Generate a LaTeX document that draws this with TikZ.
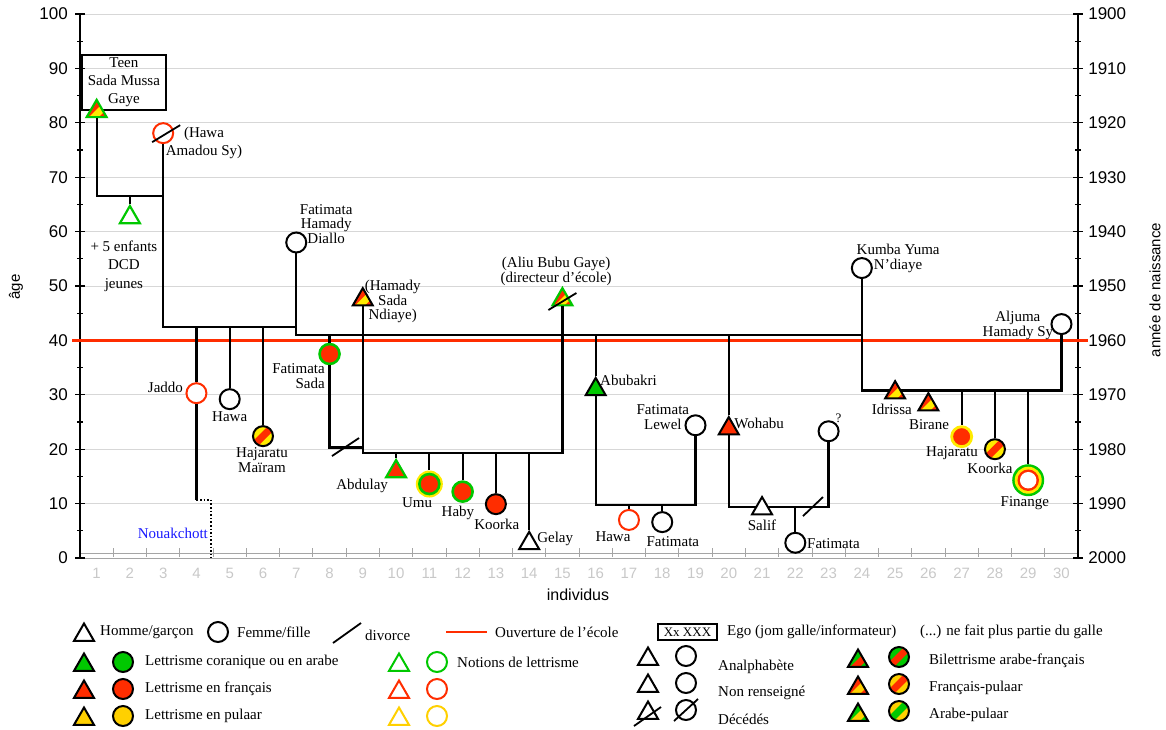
\documentclass[tikz,border=0pt]{standalone}
\usepackage{fontspec}
\setmainfont{Liberation Serif}
\newfontfamily\axfont{Liberation Sans}
\usetikzlibrary{shapes.geometric}
\definecolor{myred}{RGB}{255,45,0}
\definecolor{mygreen}{RGB}{0,200,0}
\definecolor{myyellow}{RGB}{255,235,0}
\definecolor{mygold}{RGB}{255,208,0}
\definecolor{gridgray}{RGB}{215,215,215}
\definecolor{axgray}{RGB}{165,165,165}
\definecolor{ticklab}{RGB}{200,200,200}
\definecolor{nkblue}{RGB}{25,25,255}
\tikzset{
  tri/.style={regular polygon, regular polygon sides=3, minimum size=23pt, inner sep=0pt, draw=black, line width=2pt, fill=white},
  circ/.style={circle, minimum size=20pt, inner sep=0pt, draw=black, line width=2pt, fill=white},
  lbl/.style={inner sep=0pt, font=\fontsize{15}{15}\selectfont},
  fam/.style={line width=2.2pt, draw=black},
  divslash/.style={line width=1.8pt, draw=black},
  axlab/.style={inner sep=0pt, font=\axfont\fontsize{17}{17}\selectfont},
  catlab/.style={inner sep=0pt, text=ticklab, font=\axfont\fontsize{15}{15}\selectfont},
  egobox/.style={draw, line width=1.8pt, inner sep=0pt, align=center},
  stripes/.style 2 args={path picture={
    \fill[#1] (path picture bounding box.south west) rectangle (path picture bounding box.north east);
    \fill[#2] ([shift={(-16.6pt,-11.7pt)}]path picture bounding box.center) -- ([shift={(-11.7pt,-16.6pt)}]path picture bounding box.center) -- ([shift={(16.6pt,11.7pt)}]path picture bounding box.center) -- ([shift={(11.7pt,16.6pt)}]path picture bounding box.center) -- cycle;
  }},
  tstripes/.style 2 args={path picture={
    \fill[#1] (path picture bounding box.south west) rectangle (path picture bounding box.north east);
    \fill[#2] ([shift={(-15.1pt,-16.1pt)}]path picture bounding box.center) -- ([shift={(-10.2pt,-21.0pt)}]path picture bounding box.center) -- ([shift={(18.1pt,7.3pt)}]path picture bounding box.center) -- ([shift={(13.2pt,12.2pt)}]path picture bounding box.center) -- cycle;
  }},
}
\begin{document}
\begin{tikzpicture}[x=1pt,y=-1pt]
\useasboundingbox (0,0) rectangle (1166,729);
\begin{scope}[shift={(63.365,558)}, x=33.27pt, y=5.44pt]
% grid
\foreach \v in {10,20,...,100} {\draw[gridgray, line width=0.9pt] (0.5,\v) -- (30.5,\v);}
\draw[axgray, line width=0.9pt] (0.5,0) -- (30.5,0);
\draw[axgray, line width=1pt] (0.5,0.92) -- (30.5,0.92);
\foreach \k in {0,...,30} {\draw[axgray, line width=0.9pt] (\k+0.5,1.75) -- (\k+0.5,0.15);}
% axes
\draw[black, line width=1.6pt] (0.5,0) -- (0.5,100);
\draw[black, line width=1.6pt] (30.5,0) -- (30.5,100);
\foreach \v in {0,10,...,100} {
  \draw[black, line width=1.2pt] (0.5,\v) ++(-5pt,0) -- ++(10pt,0);
  \draw[black, line width=1.2pt] (30.5,\v) ++(-5pt,0) -- ++(10pt,0);
  \node[axlab, anchor=east] at ([xshift=-12pt]0.5,\v) {\v};
  \pgfmathtruncatemacro{\yr}{2000-\v}
  \node[axlab, anchor=west] at ([xshift=10pt]30.5,\v) {\yr};
}
\foreach \v in {5,15,...,95} {
  \draw[black, line width=1.2pt] (0.5,\v) ++(-3pt,0) -- ++(6pt,0);
  \draw[black, line width=1.2pt] (30.5,\v) ++(-3pt,0) -- ++(6pt,0);
}
\foreach \i in {1,...,30} {\node[catlab] at (\i,-2.76) {\i};}
% school opening line
\coordinate (ecL) at (0.26,40);
\coordinate (ecR) at (30.8,40);
\draw[myred, line width=2.2pt] (ecL) -- (ecR);

% ---- generation 1
\node[egobox, minimum width=84pt, minimum height=55pt, font=\fontsize{15}{18}\selectfont] (teen) at (1.82,87.4) {Teen\\Sada Mussa\\Gaye};
\node[tri, draw=mygreen, line width=2.2pt, tstripes={myred}{myyellow}] (t1) at (1,82.1) {};
\node[circ, draw=myred] (c3) at (3,78.1) {};
\node[lbl, align=center, font=\fontsize{15}{18}\selectfont] (l3) at (4.227,76.3) {(Hawa\\Amadou Sy)};
\coordinate (j1) at (1,66.5);
\coordinate (j2) at (2,66.5);
\coordinate (j3) at (3,66.5);
\draw[fam] (t1) -- (j1) -- (j3);
\node[tri, draw=mygreen, line width=2.2pt] (t2) at (2,62.6) {};
\draw[fam] (j2) -- (t2);
\node[lbl, align=center, font=\fontsize{15}{18.5}\selectfont] (l2) at (1.82,53.7) {+ 5 enfants\\DCD\\jeunes};
\coordinate (k3) at (3,42.5);
\coordinate (k4) at (4,42.5);
\coordinate (k5) at (5,42.5);
\coordinate (k6) at (6,42.5);
\coordinate (k7) at (7,42.5);
\draw[fam] (c3) -- (k3) -- (k7);
\draw[divslash] ([shift={(-11pt,-9pt)}]c3.center) -- ([shift={(17pt,8pt)}]c3.center);

% ---- children of Teen and Hawa
\node[circ, draw=myred] (c4) at (4,30.3) {};
\coordinate (n4) at (4,10.7);
\coordinate (n4b) at (4.43,10.7);
\coordinate (n4c) at (4.43,0);
\draw[fam] (k4) -- (c4);
\draw[fam] (c4) -- (n4);
\draw[line width=1.6pt, dotted] (n4) -- (n4b) -- (n4c);
\node[lbl, anchor=east] (lj) at (3.6,31.4) {Jaddo};
\node[lbl, anchor=east, text=nkblue] (nk) at (4.35,4.6) {Nouakchott};
\node[circ] (c5) at (5,29.2) {};
\draw[fam] (k5) -- (c5);
\node[lbl] (l5) at (5,25.9) {Hawa};
\node[circ, stripes={myyellow}{myred}] (c6) at (6,22.4) {};
\draw[fam] (k6) -- (c6);
\node[lbl, align=center] (l6) at (5.97,18.0) {Hajaratu\\Maïram};

% ---- Fatimata Hamady Diallo
\node[circ] (c7) at (7,58) {};
\node[lbl, align=center, font=\fontsize{15}{14.5}\selectfont] (l7) at (7.9,61.4) {Fatimata\\Hamady\\Diallo};
\coordinate (m7) at (7,41);
\coordinate (m8) at (8,41);
\coordinate (m16) at (16,41);
\coordinate (m20) at (20,41);
\coordinate (m24) at (24,41);
\draw[fam] (c7) -- (m7) -- (m24);

% Fatimata Sada
\node[circ, draw=mygreen, fill=myred, line width=2.6pt] (c8) at (8,37.5) {};
\coordinate (p8) at (8,20.3);
\coordinate (p9) at (9,20.3);
\draw[fam] (m8) -- (c8);
\draw[fam] (c8) -- (p8) -- (p9);
\coordinate (d8a) at (8.074,18.75);
\coordinate (d8b) at (8.886,22.06);
\draw[divslash] (d8a) -- (d8b);
\node[lbl, anchor=east, align=right] (l8) at (7.864,33.4) {Fatimata\\Sada};

% Hamady Sada Ndiaye and Aliu Bubu Gaye
\node[tri, tstripes={myred}{myyellow}] (t9) at (9,47.5) {};
\node[lbl, align=center, font=\fontsize{15}{14.5}\selectfont] (l9) at (9.9,47.1) {(Hamady\\Sada\\Ndiaye)};
\node[tri, draw=mygreen, line width=2.2pt, tstripes={myred}{myyellow}] (t15) at (15,47.5) {};
\node[lbl, align=center] (l15) at (14.81,52.7) {(Aliu Bubu Gaye)\\(directeur d’école)};
\coordinate (q9) at (9,19.3);
\coordinate (q10) at (10,19.3);
\coordinate (q11) at (11,19.3);
\coordinate (q12) at (12,19.3);
\coordinate (q13) at (13,19.3);
\coordinate (q14) at (14,19.3);
\coordinate (q15) at (15,19.3);
\draw[fam] (t9) -- (q9) -- (q15) -- (t15);
\draw[divslash] ([shift={(-14pt,-10.4pt)}]t15.center) -- ([shift={(14pt,6.6pt)}]t15.center);

\node[tri, draw=mygreen, fill=myred, line width=2.2pt] (t10) at (10,15.9) {};
\draw[fam] (q10) -- (t10);
\node[lbl] (l10) at (8.98,13.2) {Abdulay};
\node[circle, minimum size=27pt, inner sep=0pt, fill=myyellow] (c11o) at (11,13.6) {};
\node[circ, draw=mygreen, fill=myred, line width=2.6pt] (c11) at (11,13.6) {};
\draw[fam] (q11) -- (c11o);
\node[lbl] (l11) at (10.63,10.1) {Umu};
\node[circ, draw=mygreen, fill=myred, line width=2.6pt] (c12) at (12,12.2) {};
\draw[fam] (q12) -- (c12);
\node[lbl] (l12) at (11.86,8.3) {Haby};
\node[circ, fill=myred] (c13) at (13,9.9) {};
\draw[fam] (q13) -- (c13);
\node[lbl] (l13) at (13.03,6.1) {Koorka};
\node[tri] (t14) at (14,2.7) {};
\draw[fam] (q14) -- (t14);
\node[lbl, anchor=west] (l14) at (14.24,3.5) {Gelay};

% Abubakri
\node[tri, fill=mygreen] (t16) at (16,31) {};
\node[lbl, anchor=west] (l16) at (16.13,32.7) {Abubakri};
\coordinate (r16) at (16,9.7);
\coordinate (r17) at (17,9.7);
\coordinate (r18) at (18,9.7);
\coordinate (r19) at (19,9.7);
\node[circ] (c19) at (19,24.4) {};
\node[lbl, align=center] (l19) at (18.02,25.9) {Fatimata\\Lewel};
\draw[fam] (m16) -- (t16);
\draw[fam] (t16) -- (r16) -- (r19) -- (c19);
\node[circ, draw=myred] (c17) at (17,7) {};
\draw[fam] (r17) -- (c17);
\node[lbl] (l17) at (16.52,3.9) {Hawa};
\node[circ] (c18) at (18,6.6) {};
\draw[fam] (r18) -- (c18);
\node[lbl] (l18) at (18.32,3.1) {Fatimata};

% Wohabu
\node[tri, fill=myred] (t20) at (20,23.8) {};
\node[lbl, anchor=west] (l20) at (20.16,24.8) {Wohabu};
\coordinate (s20) at (20,9.4);
\coordinate (s22) at (22,9.4);
\coordinate (s23) at (23,9.4);
\node[circ] (c23) at (23,23.3) {};
\node[lbl, font=\fontsize{13}{13}\selectfont] (l23) at (23.3,25.6) {?};
\draw[fam] (m20) -- (t20);
\draw[fam] (t20) -- (s20) -- (s23) -- (c23);
\node[tri] (t21) at (21,9.1) {};
\node[lbl] (l21) at (21,6.1) {Salif};
\node[circ] (c22) at (22,2.8) {};
\draw[fam] (s22) -- (c22);
\node[lbl, anchor=west] (l22) at (22.35,2.6) {Fatimata};
\coordinate (d22a) at (22.23,7.7);
\coordinate (d22b) at (22.83,11.2);
\draw[divslash] (d22a) -- (d22b);

% Kumba Yuma N'diaye and Aljuma Hamady Sy
\node[circ] (c24) at (24,53.3) {};
\node[lbl, align=center] (l24) at (25.09,55.1) {Kumba Yuma\\N’diaye};
\node[circ] (c30) at (30,43) {};
\node[lbl, align=center] (l30) at (28.69,42.7) {Aljuma\\Hamady Sy};
\coordinate (u24) at (24,30.8);
\coordinate (u26) at (26,30.8);
\coordinate (u27) at (27,30.8);
\coordinate (u28) at (28,30.8);
\coordinate (u29) at (29,30.8);
\coordinate (u30) at (30,30.8);
\draw[fam] (c24) -- (u24) -- (u30) -- (c30);
\node[tri, tstripes={myred}{myyellow}] (t25) at (25,30.4) {};
\node[lbl] (l25) at (24.9,27.4) {Idrissa};
\node[tri, tstripes={myred}{myyellow}] (t26) at (26,28.2) {};
\draw[fam] (u26) -- (t26);
\node[lbl] (l26) at (26.02,24.6) {Birane};
\node[circ, draw=myyellow, fill=myred, line width=2.8pt] (c27) at (27,22.3) {};
\draw[fam] (u27) -- (c27);
\node[lbl] (l27) at (26.71,19.3) {Hajaratu};
\node[circ, stripes={myyellow}{myred}] (c28) at (28,20) {};
\draw[fam] (u28) -- (c28);
\node[lbl] (l28) at (27.85,16.5) {Koorka};
\node[circle, minimum size=32pt, inner sep=0pt, fill=mygreen] (c29) at (29,14.3) {};
\node[circle, minimum size=27pt, inner sep=0pt, fill=myyellow] (c29y) at (29,14.3) {};
\node[circle, minimum size=21.5pt, inner sep=0pt, fill=myred] (c29r) at (29,14.3) {};
\node[circle, minimum size=16.5pt, inner sep=0pt, fill=white] (c29w) at (29,14.3) {};
\draw[fam] (u29) -- (c29);
\node[lbl] (l29) at (28.9,10.1) {Finange};
\end{scope}

% axis titles
\node[inner sep=0pt, font=\axfont\fontsize{16}{16}\selectfont] (xt) at (578,595) {individus};
\node[inner sep=0pt, rotate=90, font=\axfont\fontsize{15}{15}\selectfont] (yt) at (16,287) {âge};
\node[inner sep=0pt, rotate=90, font=\axfont\fontsize{15}{15}\selectfont] (yt2) at (1155,290) {année de naissance};

% ---- legend
\node[tri] (g1) at (84,635) {};
\node[lbl, anchor=west] (g1t) at (100,632) {Homme/garçon};
\node[circ] (g2) at (218,632) {};
\node[lbl, anchor=west] (g2t) at (237,632) {Femme/fille};
\coordinate (g3a) at (333,643);
\coordinate (g3b) at (361,623);
\draw[divslash] (g3a) -- (g3b);
\node[lbl, anchor=west] (g3t) at (365,635) {divorce};
\coordinate (g4a) at (446,632);
\coordinate (g4b) at (487,632);
\draw[myred, line width=2.2pt] (g4a) -- (g4b);
\node[lbl, anchor=west] (g4t) at (495,632) {Ouverture de l’école};
\node[draw, line width=1.8pt, minimum width=59pt, minimum height=16pt, inner sep=0pt, font=\fontsize{13}{13}\selectfont] (g5) at (687.5,632) {Xx XXX};
\node[lbl, anchor=west] (g5t) at (727,632) {Ego (jom galle/informateur)};
\node[lbl, anchor=west] (g6t) at (920,632) {(...) ne fait plus partie du galle};

\node[tri, fill=mygreen] (h1) at (84,665) {};
\node[circ, fill=mygreen] (h2) at (123,662) {};
\node[lbl, anchor=west] (h2t) at (145,662) {Lettrisme coranique ou en arabe};
\node[tri, draw=mygreen] (h3) at (399,665) {};
\node[circ, draw=mygreen] (h4) at (437,662) {};
\node[lbl, anchor=west] (h4t) at (457,662) {Notions de lettrisme};

\node[tri, fill=myred] (i1) at (84,692) {};
\node[circ, fill=myred] (i2) at (123,689) {};
\node[lbl, anchor=west] (i2t) at (145,689) {Lettrisme en français};
\node[tri, draw=myred] (i3) at (399,692) {};
\node[circ, draw=myred] (i4) at (437,689) {};

\node[tri, fill=mygold] (k1) at (84,719) {};
\node[circ, fill=mygold] (k2) at (123,716) {};
\node[lbl, anchor=west] (k2t) at (145,716) {Lettrisme en pulaar};
\node[tri, draw=mygold] (k3) at (399,719) {};
\node[circ, draw=mygold] (k4) at (437,716) {};

\node[tri] (a1) at (648,659) {};
\node[circ] (a2) at (686,656) {};
\node[lbl, anchor=west] (a2t) at (718,667) {Analphabète};
\node[tri] (b1) at (648,686) {};
\node[circ] (b2) at (686,683) {};
\node[lbl, anchor=west] (b2t) at (718,693) {Non renseigné};
\node[tri] (e1) at (648,713) {};
\node[circ] (e2) at (686,710) {};
\draw[divslash] ([shift={(-14pt,-13pt)}]e1.center) -- ([shift={(13pt,6pt)}]e1.center);
\draw[divslash] ([shift={(-12pt,-11pt)}]e2.center) -- ([shift={(12pt,11pt)}]e2.center);
\node[lbl, anchor=west] (e2t) at (718,719) {Décédés};

\node[tri, tstripes={mygreen}{myred}] (f1) at (858,661) {};
\node[circ, stripes={mygreen}{myred}] (f2) at (899,657) {};
\node[lbl, anchor=west] (f2t) at (929,661) {Bilettrisme arabe-français};
\node[tri, tstripes={myred}{mygold}] (f3) at (858,688) {};
\node[circ, stripes={mygold}{myred}] (f4) at (899,684) {};
\node[lbl, anchor=west] (f4t) at (929,688) {Français-pulaar};
\node[tri, tstripes={mygreen}{mygold}] (f5) at (858,715) {};
\node[circ, stripes={mygold}{mygreen}] (f6) at (899,711) {};
\node[lbl, anchor=west] (f6t) at (929,715) {Arabe-pulaar};
\end{tikzpicture}
\end{document}
